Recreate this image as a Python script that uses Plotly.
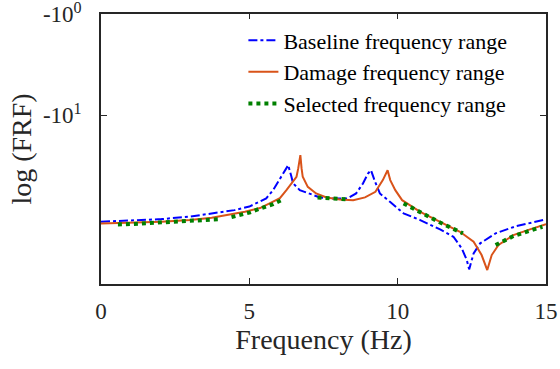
import plotly.graph_objects as go

# Frequency response curves (FRF values are negative; plotted by magnitude on a reversed log axis)
baseline_freq = [0, 1.0, 2.04, 3.0, 3.5, 4.5, 5.0, 5.57, 5.8, 6.08, 6.25, 6.31, 6.42, 6.47, 6.7,
                 7.04, 7.38, 7.8, 8.3, 8.6, 8.83, 9.0, 9.1, 9.24, 9.4, 9.74, 10.2, 10.76, 11.43,
                 11.88, 12.16, 12.33, 12.41, 12.56, 12.78, 13.3, 14.0, 15.0]
baseline_frf = [-113.8, -110.8, -107.1, -101.2, -96.2, -87.3, -80.5, -66.8, -55.3, -40.8, -33.7,
                -31.3, -40.8, -47.1, -55.3, -59.6, -65.3, -66.8, -66.8, -59.6, -47.5, -37.8, -35.1,
                -45.8, -59.6, -72.2, -94.0, -109.6, -135.5, -160.3, -208.9, -272.7, -337.2, -234.0,
                -186.2, -148.3, -125.6, -107.9]

damage_freq = [0, 1.0, 2.04, 3.0, 3.73, 4.85, 5.36, 5.7, 6.03, 6.25, 6.48, 6.59, 6.65, 6.72, 6.76,
               6.8, 6.97, 7.25, 7.6, 8.05, 8.5, 8.9, 9.25, 9.5, 9.66, 9.75, 9.92, 10.15, 10.76,
               11.43, 12.1, 12.56, 12.83, 13.02, 13.17, 13.4, 13.9, 14.46, 15.0]
damage_frf = [-118.1, -116.7, -113.8, -109.6, -103.9, -90.6, -83.3, -74.3, -66.4, -55.3, -45.8,
              -40.8, -33.5, -24.9, -33.5, -40.8, -51.3, -59.6, -65.3, -68.4, -69.5, -65.3, -57.5,
              -44.0, -35.1, -44.0, -55.3, -69.5, -90.6, -113.8, -143.0, -179.6, -243.3, -342.6,
              -243.3, -193.6, -154.2, -135.5, -120.0]

# Selected ranges: separate bands, None breaks the line between them
selected_freq = [0.57, 1.0, 2.04, 3.0, 3.5, 4.05, None,
                 4.4, 4.6, 5.0, 5.38, 5.8, 6.08, None,
                 7.3, 7.8, 8.3, None,
                 10.2, 10.76, 11.43, 12.2, None,
                 13.3, 13.9, 14.46, 14.88]
selected_frf = [-120.8, -120.0, -115.4, -112.1, -109.6, -107.1, None,
                -102.3, -99.3, -92.3, -83.9, -76.1, -69.5, None,
                -65.3, -67.1, -68.4, None,
                -74.9, -92.3, -115.9, -148.3, None,
                -193.6, -157.8, -139.3, -127.6]

y_tick_vals = [-1, -10]
y_tick_text = ["-10<sup>0</sup>", "-10<sup>1</sup>"]
x_tick_vals = [0, 5, 10, 15]


def magnitude(values):
    return [None if v is None else -v for v in values]


FONT = "Liberation Serif"
AXIS_COLOR = "rgb(38,38,38)"

fig = go.Figure()
fig.add_trace(go.Scatter(
    x=baseline_freq, y=magnitude(baseline_frf), mode="lines",
    name="Baseline frequency range",
    line=dict(color="#0000FF", width=2, dash="dashdot"),
))
fig.add_trace(go.Scatter(
    x=damage_freq, y=magnitude(damage_frf), mode="lines",
    name="Damage frequency range",
    line=dict(color="#D95319", width=2),
))
fig.add_trace(go.Scatter(
    x=selected_freq, y=magnitude(selected_frf), mode="lines",
    name="Selected frequency range",
    line=dict(color="#008000", width=4, dash="dot"),
))

fig.update_layout(
    template="none",
    width=560, height=369,
    margin=dict(l=101, r=14, t=14, b=85),
    showlegend=True,
    legend=dict(
        x=0.32, y=0.98, xanchor="left", yanchor="top",
        font=dict(family=FONT, size=22, color="#000000"),
    ),
    xaxis=dict(
        range=[0, 15], tickvals=x_tick_vals, automargin=False,
        ticks="inside", ticklen=6, tickwidth=1, tickcolor=AXIS_COLOR,
        showline=True, linecolor=AXIS_COLOR, linewidth=1.5, mirror="ticks",
        gridcolor="rgba(0,0,0,0)", zerolinecolor="rgba(0,0,0,0)",
        ticklabelstandoff=6,
        tickfont=dict(family=FONT, size=23, color=AXIS_COLOR),
        title=dict(text="Frequency (Hz)", font=dict(family=FONT, size=28, color=AXIS_COLOR),
                   standoff=2),
    ),
    yaxis=dict(
        type="log", range=[2.673, -0.003], automargin=False,
        tickvals=magnitude(y_tick_vals), ticktext=y_tick_text,
        ticks="inside", ticklen=6, tickwidth=1, tickcolor=AXIS_COLOR,
        showline=True, linecolor=AXIS_COLOR, linewidth=1.5, mirror="ticks",
        gridcolor="rgba(0,0,0,0)", zerolinecolor="rgba(0,0,0,0)",
        ticklabelstandoff=13, ticklabeloverflow="allow",
        tickfont=dict(family=FONT, size=23, color=AXIS_COLOR),
        title=dict(text="log (FRF)", font=dict(family=FONT, size=28, color=AXIS_COLOR),
                   standoff=3),
    ),
)

fig.write_html("out.html")
